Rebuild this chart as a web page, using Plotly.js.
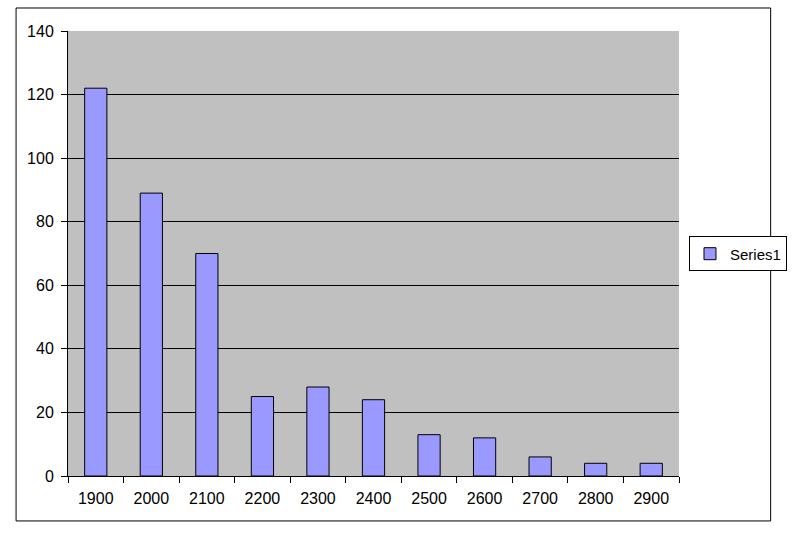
<!DOCTYPE html>
<html>
<head>
<meta charset="utf-8">
<script src="https://cdn.plot.ly/plotly-3.0.1.min.js"></script>
<style>html,body{margin:0;padding:0;background:#fff;}#chart{width:798px;height:539px;}</style>
</head>
<body>
<div id="chart"></div>
<script>
const categories = ["1900","2000","2100","2200","2300","2400","2500","2600","2700","2800","2900"];
const series1 = [122, 89, 70, 25, 28, 24, 13, 12, 6, 4, 4];
const yTicks = [0, 20, 40, 60, 80, 100, 120, 140];

const font = {family: "Liberation Sans, Arial, sans-serif", size: 16, color: "#000"};
const legendFont = {family: "Liberation Sans, Arial, sans-serif", size: 15, color: "#000"};

Plotly.newPlot("chart", [{
  type: "bar",
  name: "Series1",
  x: categories,
  y: series1,
  marker: {color: "#9999FF", line: {color: "#000", width: 1}}
}], {
  width: 798, height: 539,
  margin: {l: 68, r: 118, t: 31, b: 63},
  paper_bgcolor: "#fff",
  plot_bgcolor: "#C0C0C0",
  font: font,
  bargap: 0.6,
  showlegend: true,
  legend: {
    x: 1.0147, y: 0.499, xanchor: "left", yanchor: "middle",
    bordercolor: "#000", borderwidth: 1, bgcolor: "#fff",
    itemwidth: 30,
    font: legendFont
  },
  xaxis: {
    type: "category",
    showline: true, linecolor: "#000", linewidth: 1,
    ticks: "outside", ticklen: 6, tickcolor: "#000",
    tickson: "boundaries",
    ticklabelstandoff: 8,
    showgrid: false, zeroline: false,
    tickfont: font,
    fixedrange: true
  },
  yaxis: {
    range: [0, 140],
    tickvals: yTicks,
    showline: true, linecolor: "#000", linewidth: 1,
    ticks: "outside", ticklen: 6, tickcolor: "#000",
    ticklabelstandoff: 4,
    showgrid: true, gridcolor: "#000", gridwidth: 1,
    zeroline: false,
    tickfont: font,
    fixedrange: true
  },
  shapes: [{
    type: "rect", xref: "paper", yref: "paper",
    x0: -0.085, x1: 1.150, y0: -0.101, y1: 1.0517,
    line: {color: "#000", width: 1}, fillcolor: "rgba(0,0,0,0)"
  }]
}, {displayModeBar: false, staticPlot: true});
</script>
</body>
</html>
